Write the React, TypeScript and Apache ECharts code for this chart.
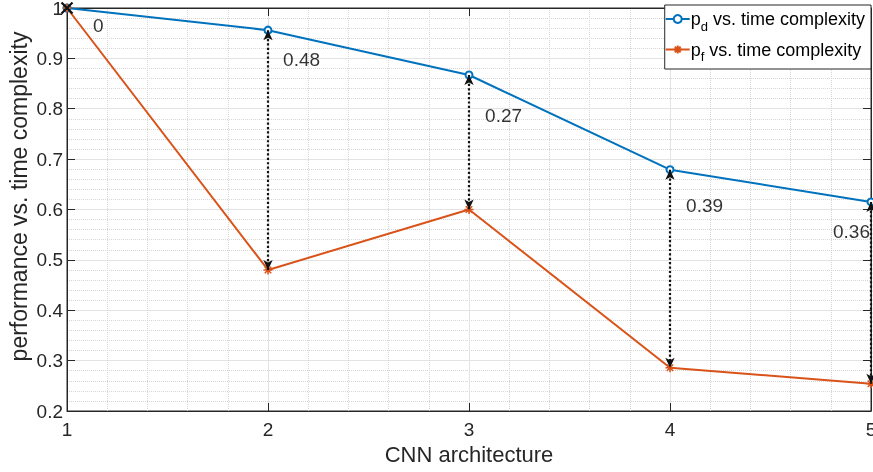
import React, { useEffect, useRef } from "react";
import * as echarts from "echarts";

const architectures = [1, 2, 3, 4, 5];
const pdValues = [1.0, 0.956, 0.867, 0.679, 0.615];
const pfValues = [1.0, 0.48, 0.6, 0.286, 0.254];
const gapLabels = ["0", "0.48", "0.27", "0.39", "0.36"];
const gapLabelX = [1.129, 2.075, 3.08, 4.08, 4.811];
const gapLabelY = [0.966, 0.897, 0.786, 0.607, 0.556];

const BLUE = "#0072BD";
const ORANGE = "#D95319";
const AX = "#262626";
const FONT = "Liberation Sans, Arial, Helvetica, sans-serif";
const STAR = "path://M0,-5L0,5M-5,0L5,0M-3.6,-3.6L3.6,3.6M-3.6,3.6L3.6,-3.6";
const XMARK = "path://M-5,-5L5,5M-5,5L5,-5";

export default function App() {
  const ref = useRef<HTMLDivElement>(null);
  useEffect(() => {
    if (!ref.current) return;
    const chart = echarts.init(ref.current, undefined, { renderer: "svg" });
    const pd = architectures.map((x, i) => [x, pdValues[i]]);
    const pf = architectures.map((x, i) => [x, pfValues[i]]);
    const arrows = architectures.slice(1).map((x, j) => [
      { coord: [x, pdValues[j + 1]] },
      { coord: [x, pfValues[j + 1]] },
    ]);
    const labelData = gapLabels.map((t, i) => ({ value: [gapLabelX[i], gapLabelY[i]], name: t }));
    const axisCommon = {
      type: "value" as const,
      axisLine: { show: true, lineStyle: { color: AX, width: 1 } },
      axisTick: { show: true, inside: true, length: 8, lineStyle: { color: AX } },
    };
    chart.setOption({
      animation: false,
      grid: {
        left: 67, top: 8, right: 2, bottom: 61,
        containLabel: false,
        outerBoundsMode: "none",
        show: true, borderColor: AX, borderWidth: 1, backgroundColor: "#fff",
      },
      legend: {
        right: 2,
        top: 5,
        orient: "vertical",
        backgroundColor: "#fff",
        borderColor: AX,
        borderWidth: 1,
        borderRadius: 0,
        padding: [5, 6, 6, 0],
        itemGap: 8,
        itemWidth: 24,
        itemHeight: 10,
        data: ["pd", "pf"],
        formatter: (name: string) =>
          name === "pd"
            ? "{a|p}{s|d}{a| vs. time complexity}"
            : "{a|p}{s|f}{a| vs. time complexity}",
        textStyle: {
          fontFamily: FONT,
          color: "#000",
          padding: [0, 0, 0, -4],
          rich: {
            a: { fontSize: 18, fontFamily: FONT, color: "#000", height: 20 },
            s: { fontSize: 13, fontFamily: FONT, color: "#000", padding: [14, 0, 0, 0] },
          },
        },
      },
      xAxis: [
        {
          ...axisCommon,
          min: 1,
          max: 5,
          interval: 1,
          name: "CNN architecture",
          nameLocation: "middle",
          nameGap: 32,
          nameMoveOverlap: false,
          nameTextStyle: { fontSize: 22, color: AX, fontFamily: FONT },
          axisLabel: { fontSize: 19, color: AX, fontFamily: FONT, margin: 9 },
          splitLine: { show: true, lineStyle: { color: "#e3e3e3", width: 1 } },
          minorTick: { show: false, splitNumber: 5 },
          minorSplitLine: { show: true, lineStyle: { color: "#d6d6d6", type: "dotted", width: 1 } },
        },
        {
          ...axisCommon,
          position: "top",
          min: 1,
          max: 5,
          interval: 1,
          axisLabel: { show: false },
          splitLine: { show: false },
        },
      ],
      yAxis: [
        {
          ...axisCommon,
          min: 0.2,
          max: 1,
          interval: 0.1,
          name: "performance vs. time complexity",
          nameLocation: "middle",
          nameGap: 37,
          nameRotate: 90,
          nameMoveOverlap: false,
          nameTextStyle: { fontSize: 23, color: AX, fontFamily: FONT, padding: [0, 0, 0, 26] },
          axisLabel: {
            fontSize: 19,
            color: AX,
            fontFamily: FONT,
            margin: 4,
            formatter: (v: number) => (Math.abs(v - 1) < 1e-9 ? "1" : String(Math.round(v * 10) / 10)),
          },
          splitLine: { show: true, lineStyle: { color: "#e3e3e3", width: 1 } },
          minorTick: { show: false, splitNumber: 5 },
          minorSplitLine: { show: true, lineStyle: { color: "#d6d6d6", type: "dotted", width: 1 } },
        },
        {
          ...axisCommon,
          position: "right",
          min: 0.2,
          max: 1,
          interval: 0.1,
          axisLabel: { show: false },
          splitLine: { show: false },
        },
      ],
      series: [
        {
          name: "pd",
          type: "line",
          data: pd,
          symbol: "emptyCircle",
          symbolSize: 7,
          showAllSymbol: true,
          lineStyle: { color: BLUE, width: 2 },
          itemStyle: { color: BLUE, borderColor: BLUE, borderWidth: 1.5 },
          z: 3,
          markLine: {
            silent: true,
            symbol: ["arrow", "arrow"],
            symbolSize: [7, 10],
            label: { show: false },
            lineStyle: { color: "#111", type: "dotted", width: 2.2 },
            data: arrows,
            z: 5,
          },
        },
        {
          name: "pf",
          type: "line",
          data: pf,
          symbol: STAR,
          symbolSize: 9,
          showAllSymbol: true,
          lineStyle: { color: ORANGE, width: 2 },
          itemStyle: { color: ORANGE, borderColor: ORANGE, borderWidth: 1.5 },
          z: 3,
          markPoint: {
            silent: true,
            symbol: XMARK,
            symbolSize: 11,
            label: { show: false },
            itemStyle: { color: "#111", borderColor: "#111", borderWidth: 2.2 },
            data: [{ coord: [architectures[0], pfValues[0]] }],
          },
        },
        {
          name: "gaps",
          type: "scatter",
          data: labelData,
          symbolSize: 0,
          silent: true,
          z: 6,
          label: {
            show: true,
            position: "right",
            distance: 0,
            formatter: (p: any) => p.name,
            fontSize: 19,
            color: "#000",
            fontFamily: FONT,
          },
        },
      ],
    });
    return () => chart.dispose();
  }, []);
  return <div ref={ref} style={{ position: "fixed", left: 0, top: 0, width: 873, height: 472 }} />;
}
